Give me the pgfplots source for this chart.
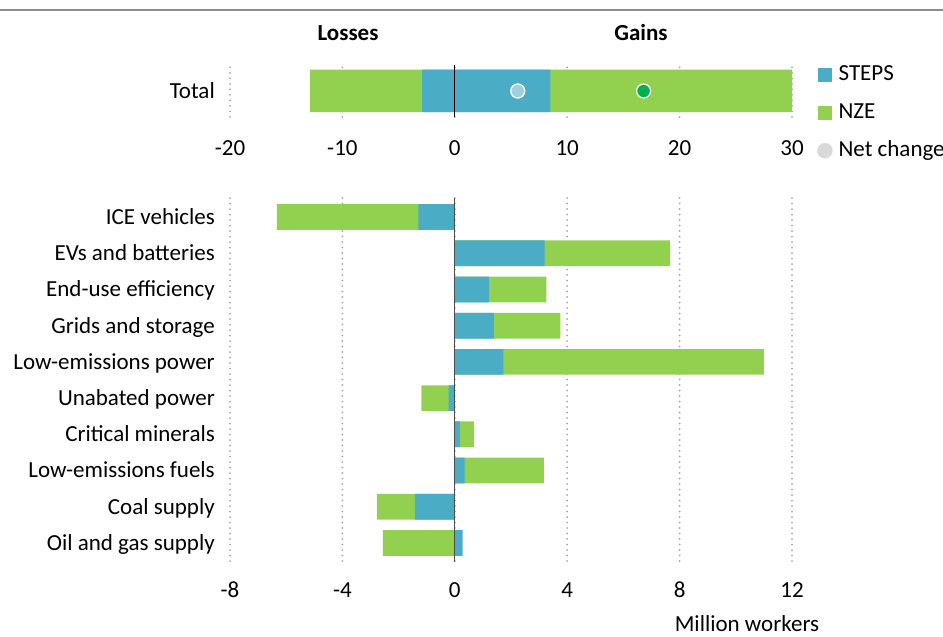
\documentclass[border=0pt]{standalone}
\usepackage{fontspec}
\setmainfont{Carlito}
\usepackage{pgfplots}
\pgfplotsset{compat=1.18}
\usepackage{pgfplotstable}

\definecolor{steps}{HTML}{4BACC6}
\definecolor{nze}{HTML}{92D050}
\definecolor{stepsnet}{HTML}{9DD1DE}
\definecolor{nzenet}{HTML}{00B050}
\definecolor{netgray}{HTML}{D9D9D9}
\definecolor{gridgray}{HTML}{A6A6A6}
\definecolor{rulegray}{HTML}{8C8C8C}

% Employment change by sector, million workers (STEPS and NZE scenarios)
\pgfplotstableread{
idx steps nze
0 -1.30 -6.33
1  3.20  7.66
2  1.21  3.26
3  1.39  3.76
4  1.73 11.00
5 -0.22 -1.19
6  0.18  0.68
7  0.35  3.17
8 -1.42 -2.77
9  0.28 -2.56
}\sectors

\newcommand{\chartfont}{\fontsize{23}{27}\selectfont}

\pgfplotsset{
  jobs/.style={
    scale only axis,
    width=562pt,
    axis line style={draw=none},
    major tick length=0pt,
    xmajorgrids, ymajorgrids=false,
    grid style={gridgray, line width=2pt, line cap=round, dash pattern=on 0pt off 5.5pt},
    tick label style={font=\chartfont, text=black},
    y tick label style={anchor=mid east, inner sep=0pt, xshift=-15pt, yshift=-5pt},
    clip=false,
  },
}

\begin{document}
\begin{tikzpicture}[font=\chartfont]
\useasboundingbox (0pt,0pt) rectangle (943pt,637pt);

\draw[rulegray, line width=2pt] (0pt,627pt) -- (943pt,627pt);
\node[font=\chartfont\bfseries] at (348pt,604pt) {Losses};
\node[font=\chartfont\bfseries] at (641pt,604pt) {Gains};

% Total
\begin{axis}[jobs,
  at={(230pt,520pt)}, anchor=south west,
  height=52pt,
  xmin=-20, xmax=30, ymin=-0.5, ymax=0.5,
  xtick={-20,-10,0,10,20,30},
  xticklabels={-20,-10,0,10,20,30},
  x tick label style={anchor=base, yshift=-39pt},
  ytick={0}, yticklabels={Total},
  bar width=42.5pt,
  legend style={at={(axis description cs:1,1)}, anchor=north west,
    xshift=25pt, yshift=0pt, draw=none, fill=none, inner sep=0pt,
    font=\chartfont, row sep=19pt,
    nodes={inner sep=0pt, text height=15pt, text depth=4pt},
    /tikz/every odd column/.append style={column sep=6pt}},
  legend cell align=left,
]
\addplot[xbar, bar shift=0pt, fill=nze, draw=none, forget plot]
  coordinates {(-12.9,0) (30,0)};
\addplot[xbar, bar shift=0pt, fill=steps, draw=none, forget plot]
  coordinates {(-2.9,0) (8.5,0)};
\draw[black, line width=1pt] (axis cs:0,-0.5) -- (axis cs:0,0.5);
\addplot[only marks, mark=*, mark size=7pt, forget plot,
  mark options={fill=stepsnet, draw=white, line width=1.3pt}]
  coordinates {(5.6,0)};
\addplot[only marks, mark=*, mark size=7pt, forget plot,
  mark options={fill=nzenet, draw=white, line width=1.3pt}]
  coordinates {(16.8,0)};
\addlegendimage{legend image code/.code={\fill[steps] (0pt,-6.5pt) rectangle (13pt,6.5pt);}}
\addlegendentry{STEPS}
\addlegendimage{legend image code/.code={\fill[nze] (0pt,-6.5pt) rectangle (13pt,6.5pt);}}
\addlegendentry{NZE}
\addlegendimage{legend image code/.code={\fill[netgray] (6.5pt,0pt) circle (7.5pt);}}
\addlegendentry{Net change}
\end{axis}

% Sectors
\begin{axis}[jobs,
  at={(230pt,75pt)}, anchor=south west,
  height=364pt,
  xmin=-8, xmax=12, ymin=-0.525, ymax=9.525,
  y dir=reverse,
  xtick={-8,-4,0,4,8,12},
  xticklabels={-8,-4,0,4,8,12},
  x tick label style={anchor=base, yshift=-35pt},
  ytick={0,...,9},
  yticklabels={ICE vehicles, EVs and batteries, End-use efficiency,
    Grids and storage, Low-emissions power, Unabated power,
    Critical minerals, Low-emissions fuels, Coal supply, Oil and gas supply},
  bar width=25.7pt,
]
\addplot[xbar, bar shift=0pt, fill=nze, draw=none] table[x=nze, y=idx] {\sectors};
\addplot[xbar, bar shift=0pt, fill=steps, draw=none] table[x=steps, y=idx] {\sectors};
\draw[black!70, line width=1.2pt] (axis cs:0,-0.525) -- (axis cs:0,9.525);
\end{axis}

\node at (747pt,13pt) {Million workers};
\end{tikzpicture}
\end{document}
